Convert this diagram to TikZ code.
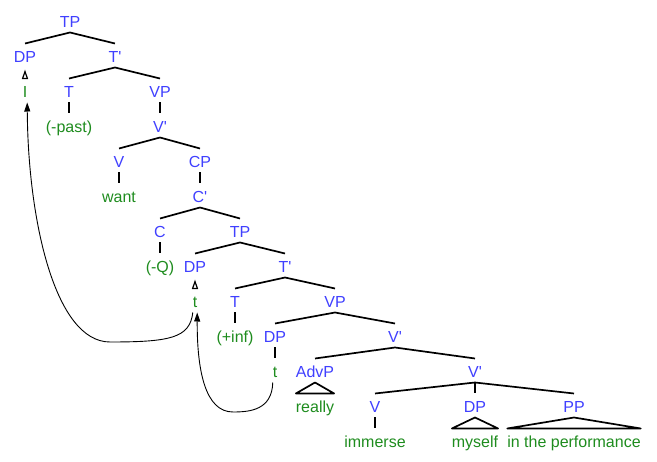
\documentclass[tikz,border=0pt]{standalone}
\usepackage{fontspec}
\setmainfont{Liberation Sans}
\usetikzlibrary{arrows.meta}
\definecolor{catblue}{RGB}{64,64,255}
\definecolor{wordgreen}{RGB}{30,140,30}
\newcommand{\prm}{\textquotesingle}
\begin{document}
\begin{tikzpicture}[x=1pt,y=-1pt,
  lbl/.style={inner sep=0pt, outer xsep=0pt, outer ysep=2pt, text height=16.75pt, text depth=3.25pt, font=\fontsize{16}{19}\selectfont},
  cat/.style={lbl, text=catblue},
  word/.style={lbl, text=wordgreen},
  branch/.style={line width=1.7pt, line join=round},
  unary/.style={line width=1.3pt},
  tracetri/.style={line width=1.2pt, fill=white, line join=miter},
  move/.style={line width=0.9pt, -{Triangle[length=9pt,width=6pt]}}]
\path[use as bounding box] (0,0) rectangle (657,462);
\node[cat] (TPa) at (70,20.5) {TP};
\node[cat] (DPa) at (25,55.5) {DP};
\node[cat] (Tba) at (115,55.5) {T\prm};
\node[word] (I) at (25,90.5) {I};
\node[cat] (Ta) at (69,90.5) {T};
\node[cat] (VPa) at (160,90.5) {VP};
\node[word] (past) at (69,125.5) {(-past)};
\node[cat] (Vba) at (160,125.5) {V\prm};
\node[cat] (Va) at (119,160.5) {V};
\node[cat] (CP) at (200,160.5) {CP};
\node[word] (want) at (119,195.5) {want};
\node[cat] (Cb) at (200,195.5) {C\prm};
\node[cat] (C) at (160,230.5) {C};
\node[cat] (TPb) at (240,230.5) {TP};
\node[word] (Q) at (160,265.5) {(-Q)};
\node[cat] (DPb) at (195,265.5) {DP};
\node[cat] (Tbb) at (285,265.5) {T\prm};
\node[word] (ta) at (195,300.5) {t};
\node[cat] (Tb) at (235,300.5) {T};
\node[cat] (VPb) at (335,300.5) {VP};
\node[word] (inf) at (235,335.5) {(+inf)};
\node[cat] (DPc) at (275,335.5) {DP};
\node[cat] (Vbb) at (395,335.5) {V\prm};
\node[word] (tb) at (275,370.5) {t};
\node[cat] (AdvP) at (315,370.5) {AdvP};
\node[cat] (Vbc) at (475,370.5) {V\prm};
\node[word] (really) at (315,405.5) {really};
\node[cat] (Vb) at (375,405.5) {V};
\node[cat] (DPd) at (475,405.5) {DP};
\node[cat] (PP) at (574,405.5) {PP};
\node[word] (immerse) at (375,440.5) {immerse};
\node[word] (myself) at (475,440.5) {myself};
\node[word] (perf) at (574,440.5) {in the performance};
% branches
\draw[branch] (DPa.north) -- (TPa.south) -- (Tba.north);
\draw[branch] (Ta.north) -- (Tba.south) -- (VPa.north);
\draw[unary] (Ta.south) -- (past.north);
\draw[unary] (VPa.south) -- (Vba.north);
\draw[branch] (Va.north) -- (Vba.south) -- (CP.north);
\draw[unary] (Va.south) -- (want.north);
\draw[unary] (CP.south) -- (Cb.north);
\draw[branch] (C.north) -- (Cb.south) -- (TPb.north);
\draw[unary] (C.south) -- (Q.north);
\draw[branch] (DPb.north) -- (TPb.south) -- (Tbb.north);
\draw[branch] (Tb.north) -- (Tbb.south) -- (VPb.north);
\draw[unary] (Tb.south) -- (inf.north);
\draw[branch] (DPc.north) -- (VPb.south) -- (Vbb.north);
\draw[unary] (DPc.south) -- (tb.north);
\draw[branch] (AdvP.north) -- (Vbb.south) -- (Vbc.north);
\draw[branch] (AdvP.south) -- (really.north west) -- (really.north east) -- cycle;
\draw[branch] (Vb.north) -- (Vbc.south) -- (PP.north);
\draw[unary] (Vbc.south) -- (DPd.north);
\draw[unary] (Vb.south) -- (immerse.north);
\draw[branch] (DPd.south) -- (myself.north west) -- (myself.north east) -- cycle;
\draw[branch] (PP.south) -- (perf.north west) -- (perf.north east) -- cycle;
% trace links (small open triangles between DP and its trace)
\draw[tracetri] (I.north) +(-2.4,0) -- +(0,-7) -- +(2.4,0) -- cycle;
\draw[tracetri] (ta.north) +(-2.4,0) -- +(0,-7) -- +(2.4,0) -- cycle;
% movement arrows
\draw[move] (tb.south west) .. controls (272,410) and (250,412) .. (233,412)
  .. controls (205,412) and (197,370) .. (ta.south east);
\draw[move] (ta.south west) .. controls (190,338) and (170,342) .. (110,342)
  .. controls (55,342) and (28,220) .. (I.south east);
\end{tikzpicture}
\end{document}
